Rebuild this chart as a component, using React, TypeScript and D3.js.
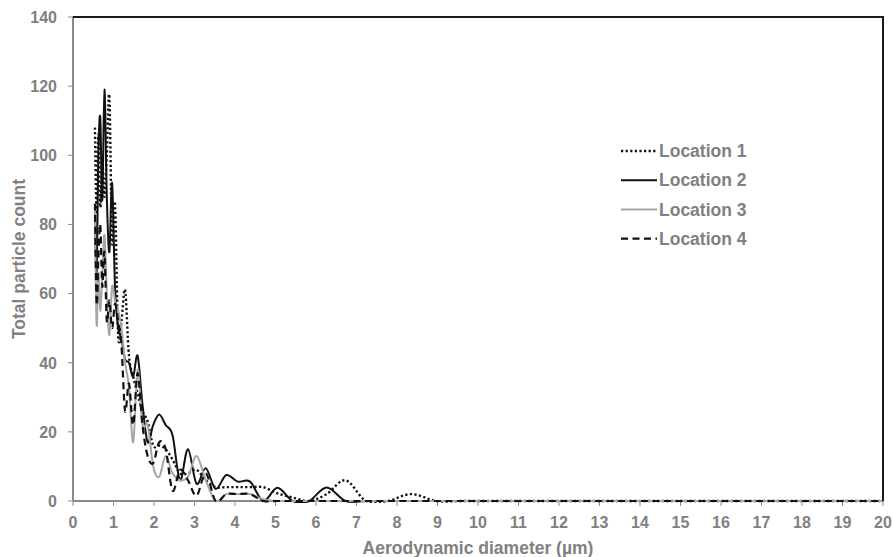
import React from "react";
import * as d3 from "d3";

// Aerodynamic diameter channels (µm)
const diameters = [
  0.542, 0.583, 0.626, 0.673, 0.723, 0.777, 0.835, 0.898, 0.965, 1.037,
  1.114, 1.197, 1.286, 1.382, 1.486, 1.596, 1.715, 1.843, 1.981, 2.129,
  2.288, 2.458, 2.642, 2.839, 3.051, 3.278, 3.523, 3.786, 4.068, 4.371,
  4.698, 5.048, 5.425, 5.829, 6.264, 6.732, 7.234, 7.774, 8.354, 8.977,
  9.647, 10.37, 11.14, 11.97, 12.86, 13.82, 14.86, 15.96, 17.15, 18.43, 19.81, 20.0,
];

const location1 = [
  108, 83, 106, 85, 98, 88, 100, 117, 75, 86,
  48, 52, 61, 42, 36, 31, 26, 23, 16, 16,
  15, 12, 8, 8, 9, 6, 4, 4, 4, 4,
  4, 2.2, 1, 0, 2, 6, 0, 0, 2, 0,
  0, 0, 0, 0, 0, 0, 0, 0, 0, 0, 0, 0,
];
const location2 = [
  84, 66, 100, 111, 87, 119, 88, 72, 92, 62,
  50, 47, 41, 40, 36, 42, 28, 17, 22, 25,
  22, 19, 6, 15, 5, 9.5, 3.5, 7.5, 5.6, 5.6,
  0, 3.8, 0, 0, 3.9, 0, 0, 0, 0, 0,
  0, 0, 0, 0, 0, 0, 0, 0, 0, 0, 0, 0,
];
const location3 = [
  84, 51, 66, 55, 65, 77, 60, 48, 62, 58,
  55, 50, 40, 33, 17, 38, 22, 22, 10, 7,
  13, 8, 6, 7, 13, 6, 0, 2, 2, 2,
  0.5, 0, 0, 0, 0, 0, 0, 0, 0, 0,
  0, 0, 0, 0, 0, 0, 0, 0, 0, 0, 0, 0,
];
const location4 = [
  86, 57, 70, 80, 62, 72, 52, 58, 50, 57,
  52, 45, 26, 34, 22, 37, 22, 13, 11, 17,
  15, 3, 9, 6, 1.5, 8, 0, 2, 2, 2,
  0, 0, 0, 0, 0, 0, 0, 0, 0, 0,
  0, 0, 0, 0, 0, 0, 0, 0, 0, 0, 0, 0,
];

const seriesNames = ["Location 1", "Location 2", "Location 3", "Location 4"];
const xTicks = d3.range(0, 21, 1);
const yTicks = [0, 20, 40, 60, 80, 100, 120, 140];

const styles = [
  { stroke: "#111", width: 2.4, dash: "2.2 2.4" },
  { stroke: "#111", width: 2, dash: "" },
  { stroke: "#a6a6a6", width: 2, dash: "" },
  { stroke: "#111", width: 2.2, dash: "7 4.5" },
];

const W = 893;
const H = 557;
const L = 73, T = 17, R = 883, B = 501;
const textColor = "#808080";
const font = "'Liberation Sans', Arial, sans-serif";

export default function App() {
  const x = d3.scaleLinear().domain([0, 20]).range([L, R]);
  const y = d3.scaleLinear().domain([0, 140]).range([B, T]);
  const allSeries = [location1, location2, location3, location4];
  const line = d3
    .line<[number, number]>()
    .x((d) => x(d[0]))
    .y((d) => y(d[1]))
    .curve(d3.curveCardinal.tension(0));

  const legendX1 = 621, legendX2 = 657, legendTextX = 659;
  const legendY0 = 151, legendDY = 29.2;

  return (
    <svg
      width={W}
      height={H}
      style={{ position: "absolute", left: 0, top: 0, background: "#fff" }}
      fontFamily={font}
    >
      <defs>
        <clipPath id="plotClip">
          <rect x={L} y={T} width={R - L} height={B - T + 2} />
        </clipPath>
      </defs>
      <rect x={0} y={0} width={W} height={H} fill="#fff" />

      {/* axes */}
      <line x1={L} y1={B} x2={R} y2={B} stroke="#8a8a8a" strokeWidth={2} />
      <line x1={L} y1={T} x2={L} y2={B} stroke="#8a8a8a" strokeWidth={2} />
      {xTicks.map((t) => (
        <line key={"xt" + t} x1={x(t)} x2={x(t)} y1={B} y2={B + 5} stroke="#8a8a8a" strokeWidth={1} />
      ))}
      {yTicks.map((t) => (
        <line key={"yt" + t} x1={L - 5} x2={L} y1={y(t)} y2={y(t)} stroke="#8a8a8a" strokeWidth={1} />
      ))}

      {/* series */}
      <g clipPath="url(#plotClip)">
        {allSeries.map((vals, i) => {
          const pts = diameters.map((d, j) => [d, vals[j]] as [number, number]);
          return (
            <path
              key={i}
              d={line(pts) || ""}
              fill="none"
              stroke={styles[i].stroke}
              strokeWidth={styles[i].width}
              strokeDasharray={styles[i].dash || undefined}
            />
          );
        })}
      </g>

      {/* frame top/right */}
      <line x1={L} y1={T} x2={R} y2={T} stroke="#1a1a1a" strokeWidth={2} />
      <line x1={R} y1={T - 1} x2={R} y2={B} stroke="#1a1a1a" strokeWidth={2} />

      {/* tick labels */}
      {xTicks.map((t) => (
        <text key={"xl" + t} x={x(t)} y={528} textAnchor="middle" fontSize={16} fontWeight="bold" fill={textColor}>
          {t}
        </text>
      ))}
      {yTicks.map((t) => (
        <text key={"yl" + t} x={57} y={y(t) + 5.8} textAnchor="end" fontSize={16} fontWeight="bold" fill={textColor}>
          {t}
        </text>
      ))}

      {/* axis titles */}
      <text x={(L + R) / 2} y={554} textAnchor="middle" fontSize={17.5} fontWeight="bold" fill={textColor}>
        Aerodynamic diameter (µm)
      </text>
      <text
        transform={`translate(25, ${(T + B) / 2}) rotate(-90)`}
        textAnchor="middle"
        fontSize={17.5}
        fontWeight="bold"
        fill={textColor}
      >
        Total particle count
      </text>

      {/* legend */}
      {seriesNames.map((name, i) => {
        const ly = legendY0 + i * legendDY;
        return (
          <g key={name}>
            <line
              x1={legendX1}
              x2={legendX2}
              y1={ly}
              y2={ly}
              stroke={styles[i].stroke}
              strokeWidth={styles[i].width}
              strokeDasharray={styles[i].dash || undefined}
            />
            <text x={legendTextX} y={ly + 6.2} fontSize={17.5} fontWeight="bold" fill={textColor}>
              {name}
            </text>
          </g>
        );
      })}
    </svg>
  );
}
